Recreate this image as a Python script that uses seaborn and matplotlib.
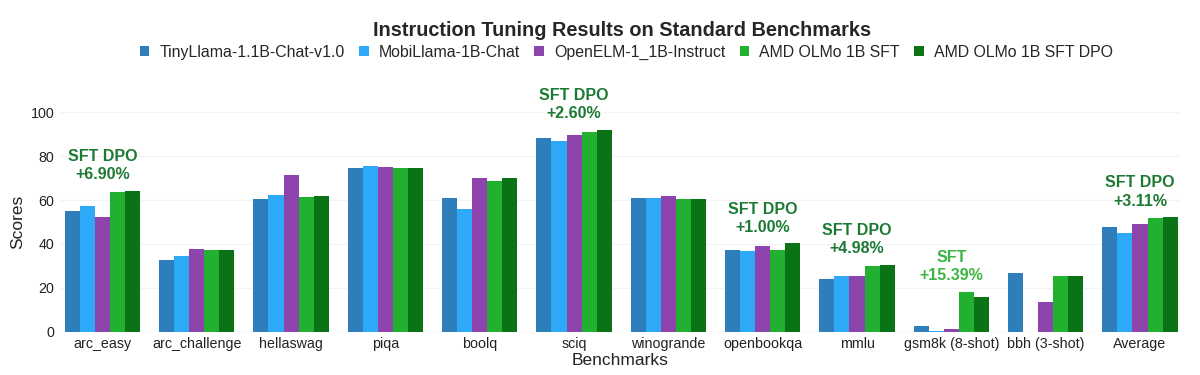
import pandas as pd
import numpy as np
import matplotlib.pyplot as plt
import seaborn as sns

# 数据
benchmarks = ['arc_easy', 'arc_challenge', 'hellaswag', 'piqa', 'boolq', 'sciq',
              'winogrande', 'openbookqa', 'mmlu', 'gsm8k (8-shot)', 'bbh (3-shot)', 'Average']
models = ['TinyLlama-1.1B-Chat-v1.0', 'MobiLlama-1B-Chat', 'OpenELM-1_1B-Instruct',
          'AMD OLMo 1B SFT', 'AMD OLMo 1B SFT DPO']

tinyllama = [54.9, 32.7, 60.4, 74.6, 61.0, 88.4, 60.8, 37.2, 24.2, 2.8, 26.8, 47.8]
mobillama = [57.4, 34.6, 62.5, 75.7, 55.7, 87.0, 60.9, 36.8, 25.3, 0.2, 0.0, 45.1]
openelm = [52.4, 37.8, 71.3, 75.0, 70.2, 89.5, 62.0, 39.2, 25.2, 1.3, 13.4, 49.1]
olmo_sft = [63.7, 37.1, 61.6, 74.4, 68.6, 90.9, 60.5, 37.4, 29.9, 18.2, 25.2, 51.7]
olmo_dpo = [64.3, 37.4, 61.9, 74.4, 70.2, 92.1, 60.6, 40.2, 30.5, 15.8, 25.5, 52.1]

# 注释: (benchmark 序号, 第一行, 第二行, 颜色)
notes = [(0, 'SFT DPO', '+6.90%', '#1d7a33'),
         (5, 'SFT DPO', '+2.60%', '#1d7a33'),
         (7, 'SFT DPO', '+1.00%', '#1d7a33'),
         (8, 'SFT DPO', '+4.98%', '#1d7a33'),
         (9, 'SFT', '+15.39%', '#3cb543'),
         (11, 'SFT DPO', '+3.11%', '#1d7a33')]

colors = ['#2e7ebc', '#2ea9f7', '#8e44ad', '#22b031', '#0a7316']

df = pd.DataFrame({'Benchmark': benchmarks * 5,
                   'Model': np.repeat(models, len(benchmarks)),
                   'Score': tinyllama + mobillama + openelm + olmo_sft + olmo_dpo})

sns.set_theme(style='whitegrid')
plt.rcParams['font.family'] = ['Liberation Sans', 'DejaVu Sans']

fig = plt.figure(figsize=(12, 3.75), dpi=100)
ax = fig.add_axes([0.05, 0.1155, 0.933, 0.585])

sns.barplot(data=df, x='Benchmark', y='Score', hue='Model', hue_order=models,
            order=benchmarks, palette=colors, width=0.8, saturation=1,
            edgecolor='none', ax=ax)

ax.set_ylim(0, 100)
ax.set_xlim(-0.45, len(benchmarks) - 0.58)
ax.set_yticks([0, 20, 40, 60, 80, 100])
ax.grid(axis='y', color='#f3f3f3', linewidth=0.8)
ax.grid(axis='x', visible=False)
for s in ax.spines.values():
    s.set_visible(False)
ax.axhline(0, color='#e8e8e8', linewidth=1, zorder=0)
ax.tick_params(axis='both', labelsize=10.3, length=0, pad=4, labelcolor='#222222')
ax.set_xlabel('Benchmarks', fontsize=12.5, labelpad=1, color='#222222')
ax.set_ylabel('Scores', fontsize=12.5, color='#222222')

all_vals = np.array([tinyllama, mobillama, openelm, olmo_sft, olmo_dpo])
for i, l1, l2, c in notes:
    top = all_vals[:, i].max()
    ax.annotate(l1 + '\n' + l2, xy=(i, top), xytext=(0, 6), textcoords='offset points',
                ha='center', va='bottom', fontsize=11.5, fontweight='bold', color=c,
                linespacing=1.3, annotation_clip=False)

handles, labels = ax.get_legend_handles_labels()
ax.get_legend().remove()
fig.legend(handles, labels, loc='center', bbox_to_anchor=(0.522, 0.861), ncol=5,
           frameon=False, fontsize=11.4, handlelength=0.6, handleheight=0.6,
           handletextpad=0.65, columnspacing=0.9)

fig.text(0.518, 0.92, 'Instruction Tuning Results on Standard Benchmarks',
         ha='center', va='center', fontsize=14.3, fontweight='bold')

plt.savefig('out.png', dpi=100)
